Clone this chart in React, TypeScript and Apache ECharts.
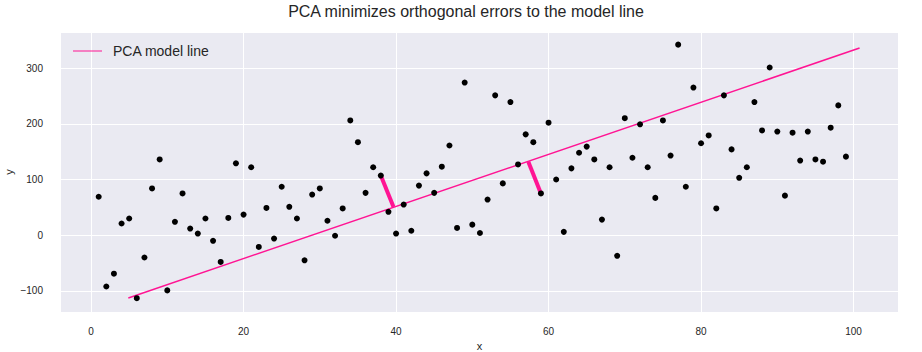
import React, { useEffect, useRef } from "react";
import * as echarts from "echarts";

const xs: number[] = Array.from({ length: 99 }, (_, i) => i + 1);
const ys: number[] = [
  69, -92, -69, 21, 30, -113, -40, 84, 136, -99,
  24, 75, 12, 3, 30, -10, -48, 31, 129, 37,
  122, -21, 49, -6, 87, 51, 30, -45, 73, 84,
  26, -1, 48, 206, 167, 76, 122, 107, 42, 3,
  55, 8, 89, 111, 76, 123, 161, 13, 274, 19,
  4, 64, 251, 93, 239, 127, 181, 167, 75, 202,
  100, 6, 120, 148, 159, 136, 28, 122, -37, 210,
  139, 199, 122, 67, 206, 143, 342, 87, 265, 165,
  179, 48, 251, 154, 103, 122, 239, 188, 301, 186,
  71, 184, 134, 186, 136, 132, 193, 233, 141,
];
const modelLine: [number, number][] = [
  [4.89, -112.6],
  [100.79, 335.9],
];
const error1: [number, number][] = [
  [38, 107],
  [39.67, 50.5],
];
const error2: [number, number][] = [
  [57.35, 132],
  [59, 75],
];
const xTicks: number[] = [0, 20, 40, 60, 80, 100];
const yTicks: number[] = [-100, 0, 100, 200, 300];

const FONT = "Liberation Sans, Arial, sans-serif";
const PINK = "#FF1493";
const TXT = "#262626";

export default function App() {
  const ref = useRef<HTMLDivElement>(null);
  useEffect(() => {
    if (!ref.current) return;
    const chart = echarts.init(ref.current, undefined, { renderer: "svg" });
    chart.setOption({
      animation: false,
      backgroundColor: "#ffffff",
      textStyle: { fontFamily: FONT },
      title: {
        text: "PCA minimizes orthogonal errors to the model line",
        left: 466,
        textAlign: "center",
        top: 3,
        padding: 0,
        textStyle: { fontFamily: FONT, fontSize: 16, fontWeight: "normal", color: TXT },
      },
      legend: {
        left: 68,
        top: 39,
        icon: "rect",
        itemWidth: 29,
        itemHeight: 1,
        data: [{ name: "PCA model line" }],
        itemStyle: { color: PINK },
        textStyle: { fontFamily: FONT, fontSize: 14, color: TXT, padding: [0, 0, 0, 6] },
      },
      graphic: [
        {
          type: "text",
          x: 9,
          y: 172,
          rotation: Math.PI / 2,
          style: {
            text: "y",
            fill: TXT,
            font: "11px Liberation Sans, Arial, sans-serif",
            align: "center",
            verticalAlign: "middle",
          },
        },
      ],
      grid: {
        left: 61,
        right: 24,
        top: 33,
        bottom: 40,
        show: true,
        backgroundColor: "#EAEAF2",
        borderWidth: 0,
        containLabel: false,
        outerBoundsMode: "none",
      },
      xAxis: {
        type: "value",
        min: -3.94,
        max: 105.83,
        name: "x",
        nameLocation: "middle",
        nameGap: 27,
        nameTextStyle: { fontFamily: FONT, fontSize: 11, color: TXT },
        axisLine: { show: false },
        axisTick: { show: false, customValues: xTicks },
        axisLabel: {
          customValues: xTicks,
          margin: 14,
          fontFamily: FONT,
          fontSize: 10,
          color: TXT,
        },
        splitLine: { show: true, lineStyle: { color: "#ffffff", width: 1 } },
      },
      yAxis: {
        type: "value",
        min: -137.8,
        max: 362.9,
        axisLine: { show: false },
        axisTick: { show: false, customValues: yTicks },
        axisLabel: {
          customValues: yTicks,
          margin: 18,
          fontFamily: FONT,
          fontSize: 10,
          color: TXT,
          formatter: (v: number) => (v < 0 ? "\u2212" + Math.abs(v) : String(v)),
        },
        splitLine: { show: true, lineStyle: { color: "#ffffff", width: 1 } },
      },
      series: [
        {
          type: "scatter",
          name: "points",
          data: xs.map((x, i) => [x, ys[i]]),
          symbolSize: 6,
          itemStyle: { color: "#000000", opacity: 1 },
          z: 3,
        },
        {
          type: "line",
          name: "PCA model line",
          data: modelLine,
          symbol: "none",
          lineStyle: { color: PINK, width: 1.5 },
          itemStyle: { color: PINK },
          z: 2,
        },
        {
          type: "line",
          name: "err1",
          data: error1,
          symbol: "none",
          lineStyle: { color: PINK, width: 4 },
          z: 2,
        },
        {
          type: "line",
          name: "err2",
          data: error2,
          symbol: "none",
          lineStyle: { color: PINK, width: 4 },
          z: 2,
        },
      ],
    });
    return () => chart.dispose();
  }, []);
  return (
    <div
      ref={ref}
      style={{ position: "fixed", left: 0, top: 0, width: 922, height: 352 }}
    />
  );
}
